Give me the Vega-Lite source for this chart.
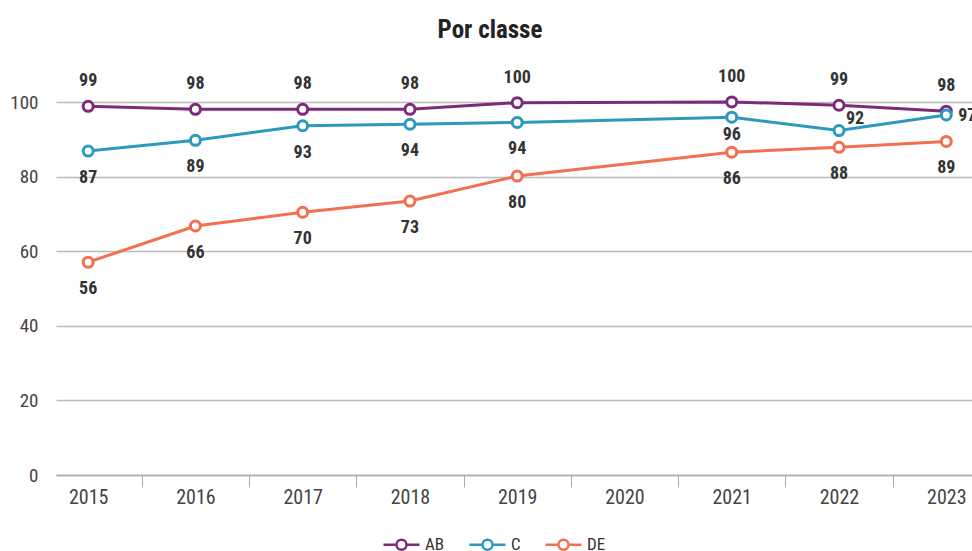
{
  "$schema": "https://vega.github.io/schema/vega-lite/v6.json",
  "width": 916,
  "height": 410,
  "autosize": "none",
  "padding": {"left": 56, "top": 65, "right": 0, "bottom": 76},
  "background": "white",
  "config": {
    "font": "Roboto Condensed",
    "view": {"stroke": null}
  },
  "title": {
    "text": "Por classe",
    "fontSize": 25,
    "fontWeight": "bold",
    "color": "#222222",
    "font": "Roboto Condensed",
    "anchor": "middle",
    "dx": -24,
    "offset": 22
  },
  "data": {
    "values": [
      {"year": 2015, "series": "AB", "value": 98.9, "label": "99"},
      {"year": 2016, "series": "AB", "value": 98.1, "label": "98"},
      {"year": 2017, "series": "AB", "value": 98.1, "label": "98"},
      {"year": 2018, "series": "AB", "value": 98.1, "label": "98"},
      {"year": 2019, "series": "AB", "value": 99.9, "label": "100"},
      {"year": 2021, "series": "AB", "value": 100.1, "label": "100"},
      {"year": 2022, "series": "AB", "value": 99.2, "label": "99"},
      {"year": 2023, "series": "AB", "value": 97.6, "label": "98"},
      {"year": 2015, "series": "C", "value": 86.9, "label": "87"},
      {"year": 2016, "series": "C", "value": 89.8, "label": "89"},
      {"year": 2017, "series": "C", "value": 93.7, "label": "93"},
      {"year": 2018, "series": "C", "value": 94.1, "label": "94"},
      {"year": 2019, "series": "C", "value": 94.6, "label": "94"},
      {"year": 2021, "series": "C", "value": 96.0, "label": "96"},
      {"year": 2022, "series": "C", "value": 92.4, "label": "92"},
      {"year": 2023, "series": "C", "value": 96.6, "label": "97"},
      {"year": 2015, "series": "DE", "value": 57.1, "label": "56"},
      {"year": 2016, "series": "DE", "value": 66.8, "label": "66"},
      {"year": 2017, "series": "DE", "value": 70.5, "label": "70"},
      {"year": 2018, "series": "DE", "value": 73.5, "label": "73"},
      {"year": 2019, "series": "DE", "value": 80.2, "label": "80"},
      {"year": 2021, "series": "DE", "value": 86.6, "label": "86"},
      {"year": 2022, "series": "DE", "value": 87.9, "label": "88"},
      {"year": 2023, "series": "DE", "value": 89.5, "label": "89"}
    ]
  },
  "encoding": {
    "x": {
      "field": "year",
      "type": "quantitative",
      "scale": {"domain": [2014.7, 2023.24], "nice": false, "zero": false},
      "axis": {
        "title": null,
        "values": [2015, 2015.5, 2016, 2016.5, 2017, 2017.5, 2018, 2018.5, 2019, 2019.5, 2020, 2020.5, 2021, 2021.5, 2022, 2022.5, 2023],
        "labelExpr": "datum.value % 1 === 0 ? format(datum.value, 'd') : ''",
        "tickOpacity": {"condition": {"test": "datum.value % 1 === 0", "value": 0}, "value": 1},
        "tickColor": "#aaaaaa",
        "tickSize": 12,
        "tickWidth": 1,
        "domainColor": "#aaaaaa",
        "domainWidth": 1.5,
        "grid": false,
        "labelFontSize": 20,
        "labelColor": "#444444",
        "labelPadding": 0,
        "labelFlush": false,
        "labelOverlap": false
      }
    },
    "y": {
      "field": "value",
      "type": "quantitative",
      "scale": {"domain": [0, 110], "nice": false},
      "axis": {
        "title": null,
        "values": [0, 20, 40, 60, 80, 100],
        "domain": false,
        "ticks": false,
        "grid": true,
        "gridColor": "#bbbbbb",
        "gridWidth": 1.5,
        "labelFontSize": 19,
        "labelColor": "#444444",
        "labelPadding": 18
      }
    }
  },
  "layer": [
    {
      "mark": {"type": "line", "strokeWidth": 3, "point": {"filled": false, "fill": "white", "size": 100, "strokeWidth": 3}},
      "encoding": {
        "color": {
          "field": "series",
          "type": "nominal",
          "scale": {"domain": ["AB", "C", "DE"], "range": ["#7e2a7c", "#2d99bf", "#f26f4f"]},
          "legend": {
            "title": null,
            "orient": "none",
            "legendX": 334,
            "legendY": 468,
            "direction": "horizontal",
            "symbolType": "M-1.8,0H-0.5M0.5,0H1.8M0.5,0A0.5,0.5,0,1,1,-0.5,0A0.5,0.5,0,1,1,0.5,0",
            "symbolSize": 400,
            "symbolStrokeWidth": 2.5,
            "symbolFillColor": "white",
            "labelFontSize": 17,
            "labelColor": "#333333",
            "labelOffset": 12,
            "columnPadding": 19
          }
        }
      }
    },
    {
      "transform": [{"filter": "datum.series === 'AB'"}],
      "mark": {"type": "text", "dy": -25, "fontSize": 18, "fontWeight": "bold", "color": "#333333"},
      "encoding": {"text": {"field": "label"}}
    },
    {
      "transform": [{"filter": "datum.series === 'DE' || (datum.series === 'C' && datum.year < 2021)"}],
      "mark": {"type": "text", "dy": 27, "fontSize": 18, "fontWeight": "bold", "color": "#333333"},
      "encoding": {"text": {"field": "label"}}
    },
    {
      "transform": [{"filter": "datum.series === 'C' && datum.year === 2021"}],
      "mark": {"type": "text", "dy": 18, "fontSize": 18, "fontWeight": "bold", "color": "#333333"},
      "encoding": {"text": {"field": "label"}}
    },
    {
      "transform": [{"filter": "datum.series === 'C' && datum.year === 2022"}],
      "mark": {"type": "text", "dx": 16, "dy": -12, "fontSize": 18, "fontWeight": "bold", "color": "#333333"},
      "encoding": {"text": {"field": "label"}}
    },
    {
      "transform": [{"filter": "datum.series === 'C' && datum.year === 2023"}],
      "mark": {"type": "text", "align": "left", "dx": 12, "dy": 1, "fontSize": 18, "fontWeight": "bold", "color": "#333333"},
      "encoding": {"text": {"field": "label"}}
    }
  ]
}
